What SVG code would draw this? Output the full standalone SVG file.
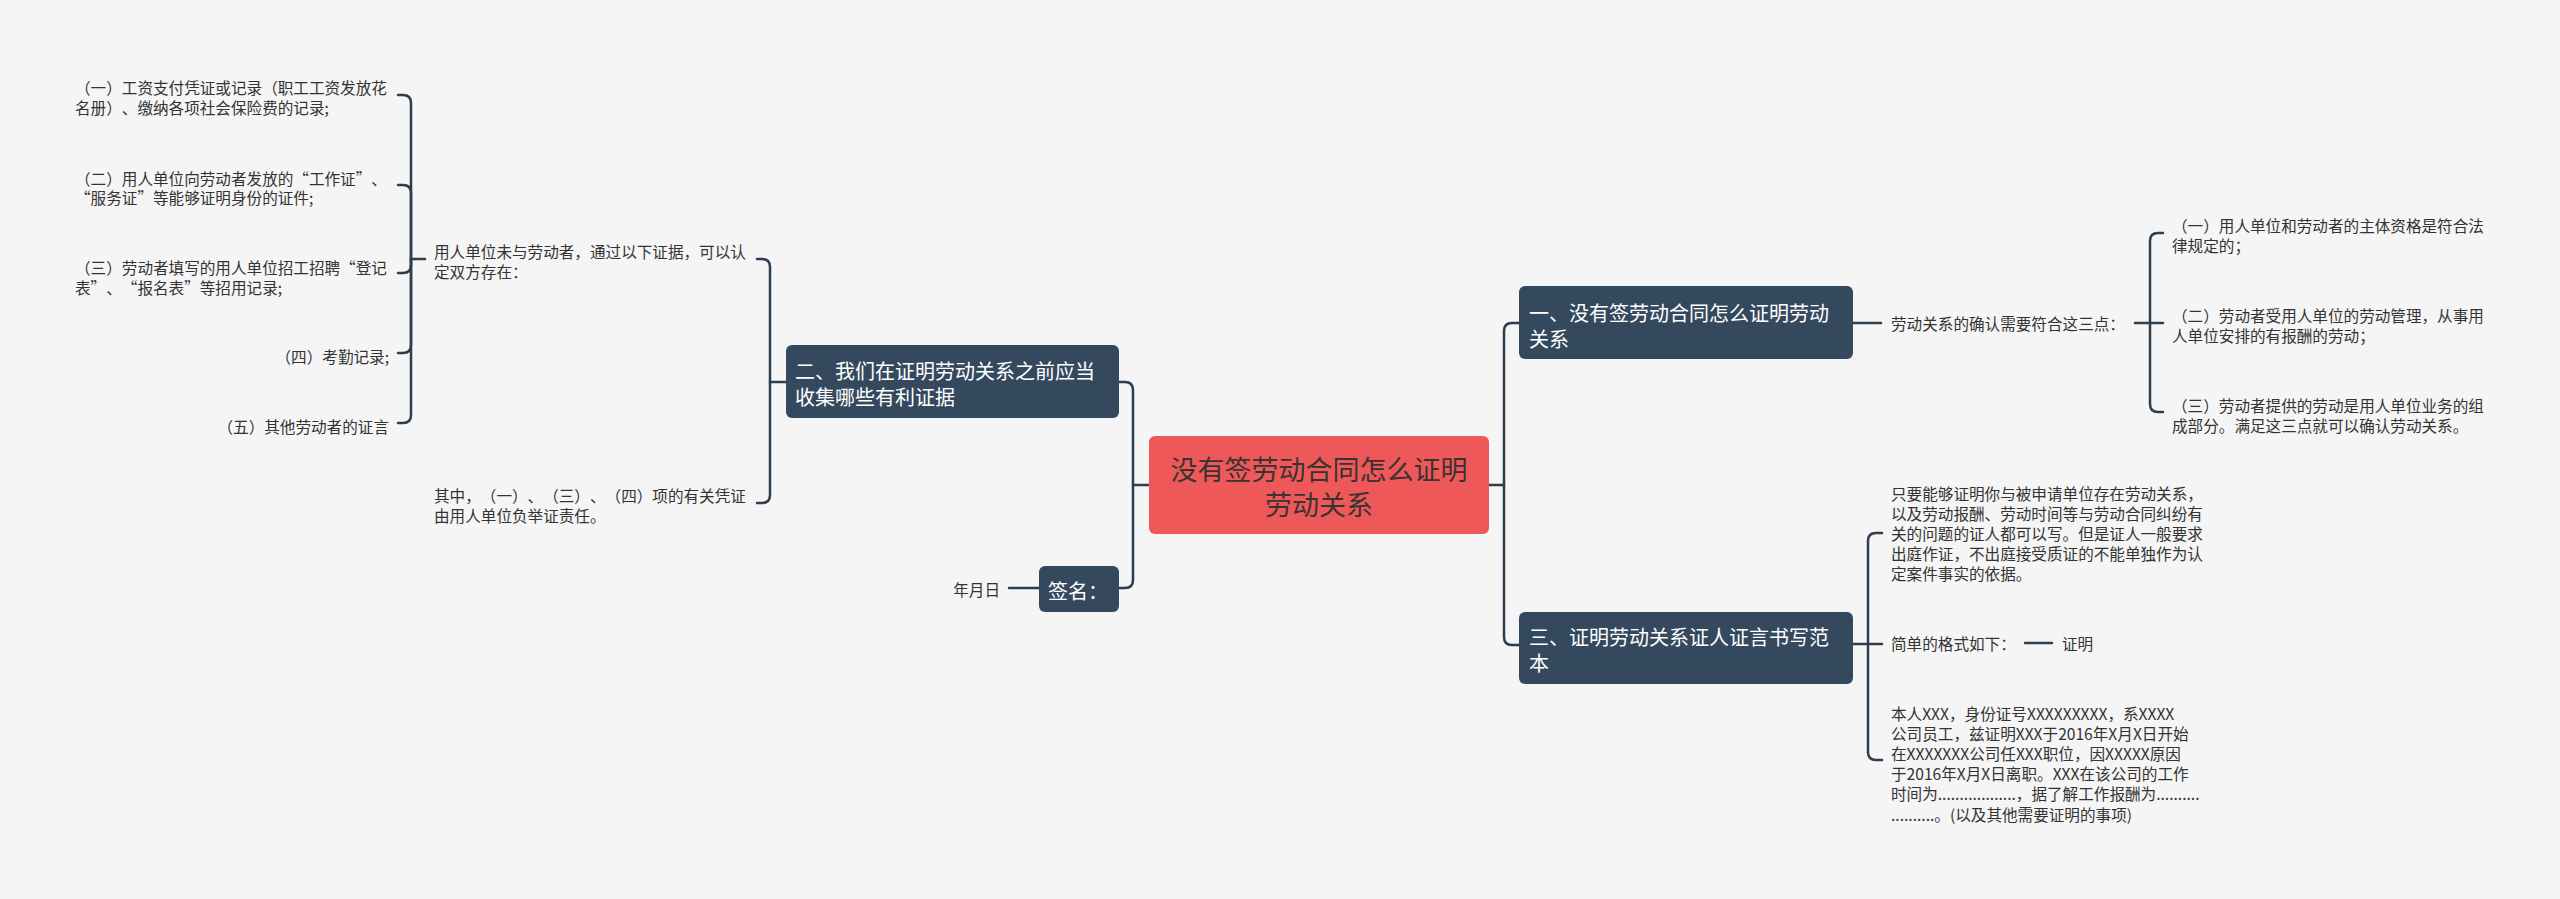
<svg xmlns="http://www.w3.org/2000/svg" width="2560" height="899" viewBox="0 0 2560 899">
<style>
text{text-spacing-trim:space-all}
.bg{fill:#f5f5f5}
.t{font-family:"Noto Sans CJK SC","Noto Sans",sans-serif;font-size:15.6px;fill:#333;dominant-baseline:central}
.nt{font-family:"Noto Sans CJK SC","Noto Sans",sans-serif;font-size:20px;fill:#ffffff;dominant-baseline:central}
.rt{font-family:"Noto Sans CJK SC","Noto Sans",sans-serif;font-size:27px;fill:#3a3333;dominant-baseline:central;text-anchor:middle}
.box{fill:#34495e}
.root{fill:#ef5858}
.c path{fill:none;stroke:#2c3e50;stroke-width:2.5;stroke-linecap:round}
.e{text-anchor:end}
</style>
<rect class="bg" x="0" y="0" width="2560" height="899"/>
<g class="c" id="connectors">
<path d="M1149,485 H1133 V390 Q1133,382 1125,382 H1119"/>
<path d="M1133,485 V580 Q1133,588 1125,588 H1119"/>
<path d="M1039,588 H1009"/>
<path d="M786,382 H770 V267 Q770,259 762,259 H757"/>
<path d="M770,382 V495 Q770,503 762,503 H757"/>
<path d="M425,259 H411 V103 Q411,95 403,95 H398"/>
<path d="M411,259 V193 Q411,185 403,185 H398"/>
<path d="M411,259 V265 Q411,273 403,273 H398"/>
<path d="M411,259 V345 Q411,353 403,353 H398"/>
<path d="M411,259 V415 Q411,423 403,423 H398"/>
<path d="M1489,485 H1504 V331 Q1504,323 1512,323 H1519"/>
<path d="M1504,485 V637 Q1504,645 1512,645 H1519"/>
<path d="M1853,323 H1881"/>
<path d="M2135,323 H2150 V241 Q2150,233 2158,233 H2163"/>
<path d="M2150,323 H2163"/>
<path d="M2150,323 V404 Q2150,412 2158,412 H2163"/>
<path d="M1853,644 H1868 V541 Q1868,533 1876,533 H1882"/>
<path d="M1868,644 H1882"/>
<path d="M1868,644 V752 Q1868,760 1876,760 H1882"/>
<path d="M2025,643 H2052"/>
</g>
<g id="root">
<rect class="root" x="1149" y="436" width="340" height="98" rx="6"/>
<text class="rt" x="1319" y="468">没有签劳动合同怎么证明</text>
<text class="rt" x="1319" y="503">劳动关系</text>
</g>
<g id="node1">
<rect class="box" x="1519" y="286" width="334" height="73" rx="6"/>
<text class="nt" x="1529" y="312">一、没有签劳动合同怎么证明劳动</text>
<text class="nt" x="1529" y="338">关系</text>
</g>
<g id="node2">
<rect class="box" x="786" y="345" width="333" height="73" rx="6"/>
<text class="nt" x="795" y="370">二、我们在证明劳动关系之前应当</text>
<text class="nt" x="795" y="396">收集哪些有利证据</text>
</g>
<g id="node3">
<rect class="box" x="1519" y="612" width="334" height="72" rx="6"/>
<text class="nt" x="1529" y="636">三、证明劳动关系证人证言书写范</text>
<text class="nt" x="1529" y="662">本</text>
</g>
<g id="sign">
<rect class="box" x="1039" y="566" width="80" height="46" rx="6"/>
<text class="nt" x="1048" y="590">签名：</text>
</g>
<g id="date"><text class="t e" x="1000" y="589">年月日</text></g>
<g id="p1">
<text class="t" x="434" y="251">用人单位未与劳动者，通过以下证据，可以认</text>
<text class="t" x="434" y="271">定双方存在：</text>
</g>
<g id="p2">
<text class="t" x="434" y="495">其中，（一）、（三）、（四）项的有关凭证</text>
<text class="t" x="434" y="515">由用人单位负举证责任。</text>
</g>
<g id="l1">
<text class="t" x="75" y="87">（一）工资支付凭证或记录（职工工资发放花</text>
<text class="t" x="75" y="107">名册）、缴纳各项社会保险费的记录;</text>
</g>
<g id="l2">
<text class="t" x="75" y="178">（二）用人单位向劳动者发放的“工作证”、</text>
<text class="t" x="75" y="197">“服务证”等能够证明身份的证件;</text>
</g>
<g id="l3">
<text class="t" x="75" y="267">（三）劳动者填写的用人单位招工招聘“登记</text>
<text class="t" x="75" y="287">表”、“报名表”等招用记录;</text>
</g>
<g id="l4"><text class="t e" x="389" y="356">（四）考勤记录;</text></g>
<g id="l5"><text class="t e" x="389" y="426">（五）其他劳动者的证言</text></g>
<g id="r0"><text class="t" x="1891" y="323">劳动关系的确认需要符合这三点：</text></g>
<g id="r1">
<text class="t" x="2172" y="225">（一）用人单位和劳动者的主体资格是符合法</text>
<text class="t" x="2172" y="245">律规定的；</text>
</g>
<g id="r2">
<text class="t" x="2172" y="315">（二）劳动者受用人单位的劳动管理，从事用</text>
<text class="t" x="2172" y="335">人单位安排的有报酬的劳动；</text>
</g>
<g id="r3">
<text class="t" x="2172" y="405">（三）劳动者提供的劳动是用人单位业务的组</text>
<text class="t" x="2172" y="425">成部分。满足这三点就可以确认劳动关系。</text>
</g>
<g id="c1">
<text class="t" x="1891" y="493">只要能够证明你与被申请单位存在劳动关系，</text>
<text class="t" x="1891" y="513">以及劳动报酬、劳动时间等与劳动合同纠纷有</text>
<text class="t" x="1891" y="533">关的问题的证人都可以写。但是证人一般要求</text>
<text class="t" x="1891" y="553">出庭作证，不出庭接受质证的不能单独作为认</text>
<text class="t" x="1891" y="573">定案件事实的依据。</text>
</g>
<g id="c2"><text class="t" x="1891" y="643">简单的格式如下：</text></g>
<g id="c2b"><text class="t" x="2062" y="643">证明</text></g>
<g id="c3">
<text class="t" x="1891" y="713">本人XXX，身份证号XXXXXXXXX，系XXXX</text>
<text class="t" x="1891" y="733">公司员工，兹证明XXX于2016年X月X日开始</text>
<text class="t" x="1891" y="753">在XXXXXXX公司任XXX职位，因XXXXX原因</text>
<text class="t" x="1891" y="773">于2016年X月X日离职。XXX在该公司的工作</text>
<text class="t" x="1891" y="793">时间为..................，据了解工作报酬为..........</text>
<text class="t" x="1891" y="814">..........。(以及其他需要证明的事项)</text>
</g>
</svg>
